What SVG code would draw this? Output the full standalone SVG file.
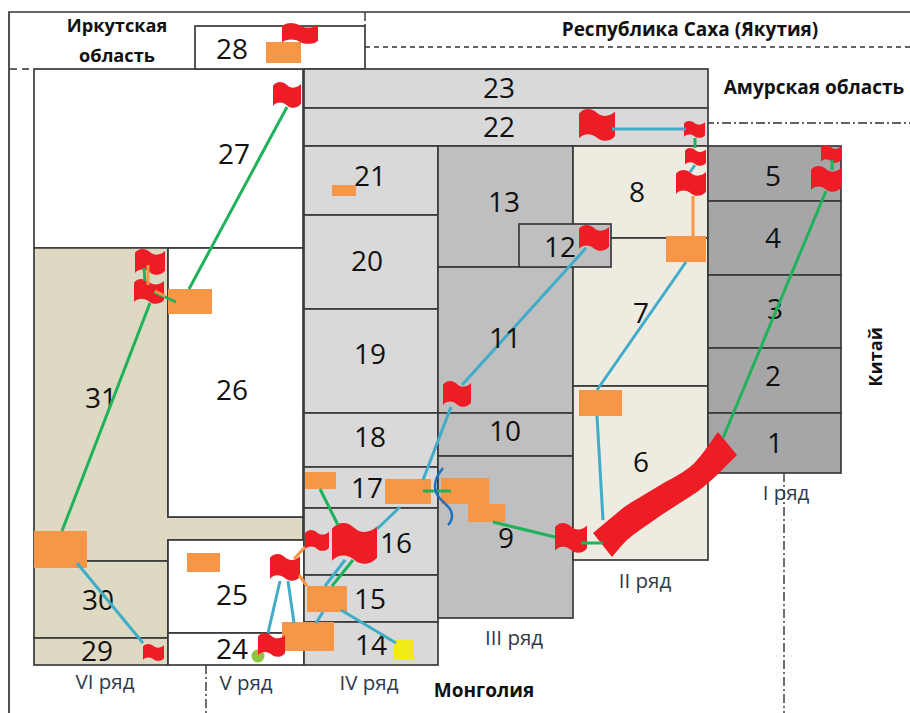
<svg xmlns="http://www.w3.org/2000/svg" width="910" height="713" viewBox="0 0 910 713">
<style>
.c{stroke:#3a3a3a;stroke-width:1.7}
.n{font:28px "Open Sans",sans-serif;fill:#111;text-anchor:middle}
.r{font:20.5px "Open Sans",sans-serif;fill:#2f3a4a;text-anchor:middle}
.b{font:bold 19px "Open Sans",sans-serif;fill:#111;text-anchor:middle}
.s{font-size:18.2px}
.o{fill:#f79646}
.l{fill:none;stroke-width:3}
.g{stroke:#1fb25a}.u{stroke:#41acc8}.a{stroke:#f79646}
.d{fill:none;stroke:#333;stroke-width:1.4}
.f{fill:#ee1c25}
.w{fill:#fff}.t{fill:#ddd9c3}.g4{fill:#d9d9d9}.g3{fill:#bfbfbf}.g2{fill:#eeece1}.g1{fill:#a6a6a6}
</style>
<defs>
<path id="flag" class="f" d="M0,14 C14,-6 36,-3 50,12 C64,27 86,24 100,8 L100,84 C88,102 64,104 50,90 C36,76 14,74 0,92 Z"/>
</defs>
<rect width="910" height="713" fill="#fff"/>
<g id="boundaries">
<path d="M9,713 V12 H910" fill="none" stroke="#333" stroke-width="1.7"/>
<path class="d" stroke-dasharray="7 5" d="M10,69 H34"/>
<path class="d" stroke-dasharray="5 4" d="M365,47 H910"/>
<path class="d" stroke-dasharray="9 3 2 3" d="M365,12 V26"/>
<path class="d" stroke-dasharray="9 3 2 3" d="M705,123 H910"/>
<path class="d" stroke-dasharray="9 3 2 3" d="M784,473 V713"/>
<path class="d" stroke-dasharray="9 3 2 3" d="M206,665 V713"/>
</g>
<g id="cell-27"><rect class="w c" x="34" y="69" width="269" height="179"/><text class="n" x="234" y="164">27</text></g>
<g id="cell-28"><rect class="w c" x="195" y="26" width="170" height="43"/><text class="n" x="232" y="59">28</text></g>
<g id="cell-31"><path class="t c" d="M34,248 H168 V517 H303 V540 H168 V561 H34 Z"/><text class="n" x="101" y="408">31</text></g>
<g id="cell-26"><rect class="w c" x="168" y="248" width="135" height="269"/><text class="n" x="232" y="400">26</text></g>
<g id="cell-30"><rect class="t c" x="34" y="561" width="134" height="77"/><text class="n" x="98" y="610">30</text></g>
<g id="cell-29"><rect class="t c" x="34" y="638" width="134" height="27"/><text class="n" x="97" y="661">29</text></g>
<g id="cell-25"><rect class="w c" x="168" y="540" width="136" height="93"/><text class="n" x="232" y="605">25</text></g>
<g id="cell-24"><rect class="w c" x="168" y="633" width="136" height="32"/><text class="n" x="232" y="659">24</text></g>
<g id="cell-23"><rect class="g4 c" x="304" y="69" width="404" height="39"/><text class="n" x="499" y="98">23</text></g>
<g id="cell-22"><rect class="g4 c" x="304" y="108" width="404" height="38"/><text class="n" x="499" y="137">22</text></g>
<g id="cell-21"><rect class="g4 c" x="304" y="146" width="134" height="69"/><text class="n" x="370" y="186">21</text></g>
<g id="cell-20"><rect class="g4 c" x="304" y="215" width="134" height="94"/><text class="n" x="367" y="271">20</text></g>
<g id="cell-19"><rect class="g4 c" x="304" y="309" width="134" height="104"/><text class="n" x="370" y="364">19</text></g>
<g id="cell-18"><rect class="g4 c" x="304" y="413" width="134" height="54"/><text class="n" x="370" y="447">18</text></g>
<g id="cell-17"><rect class="g4 c" x="304" y="467" width="134" height="41"/><text class="n" x="367" y="498">17</text></g>
<g id="cell-16"><rect class="g4 c" x="304" y="508" width="134" height="67"/><text class="n" x="396" y="553">16</text></g>
<g id="cell-15"><rect class="g4 c" x="304" y="575" width="134" height="47"/><text class="n" x="370" y="609">15</text></g>
<g id="cell-14"><rect class="g4 c" x="304" y="622" width="134" height="43"/><text class="n" x="371" y="655">14</text></g>
<g id="cell-13"><rect class="g3 c" x="438" y="146" width="135" height="121"/><text class="n" x="504" y="212">13</text></g>
<g id="cell-11"><rect class="g3 c" x="438" y="267" width="135" height="146"/></g>
<g id="cell-10"><rect class="g3 c" x="438" y="413" width="135" height="43"/><text class="n" x="505" y="441">10</text></g>
<g id="cell-9"><rect class="g3 c" x="438" y="456" width="135" height="162"/><text class="n" x="506" y="548">9</text></g>
<g id="cell-8"><rect class="g2 c" x="573" y="146" width="135" height="92"/><text class="n" x="637" y="202">8</text></g>
<g id="cell-7"><rect class="g2 c" x="573" y="238" width="135" height="148"/><text class="n" x="641" y="323">7</text></g>
<g id="cell-6"><rect class="g2 c" x="573" y="386" width="135" height="174"/><text class="n" x="641" y="472">6</text></g>
<g id="cell-12"><rect class="g3 c" x="519" y="224" width="92" height="43"/><text class="n" x="560" y="257">12</text></g>
<g id="cell-5"><rect class="g1 c" x="708" y="146" width="133" height="55"/><text class="n" x="773" y="186">5</text></g>
<g id="cell-4"><rect class="g1 c" x="708" y="201" width="133" height="74"/><text class="n" x="773" y="248">4</text></g>
<g id="cell-3"><rect class="g1 c" x="708" y="275" width="133" height="73"/><text class="n" x="775" y="319">3</text></g>
<g id="cell-2"><rect class="g1 c" x="708" y="348" width="133" height="65"/><text class="n" x="773" y="386">2</text></g>
<g id="cell-1"><rect class="g1 c" x="708" y="413" width="133" height="60"/><text class="n" x="775" y="453">1</text></g>
<g id="labels">
<text class="b s" x="117" y="32">Иркутская</text>
<text class="b s" x="117" y="62">область</text>
<text class="b" x="690" y="36">Республика Саха (Якутия)</text>
<text class="b" x="814" y="94">Амурская  область</text>
<text class="b s" transform="translate(882,357) rotate(-90)">Китай</text>
<text class="b" x="484" y="697">Монголия</text>
<text class="r" x="786" y="500">I ряд</text>
<text class="r" x="645" y="588">II ряд</text>
<text class="r" x="514" y="645">III ряд</text>
<text class="r" x="369" y="690">IV ряд</text>
<text class="r" x="246" y="690">V ряд</text>
<text class="r" x="105" y="689">VI ряд</text>
</g>
<g id="objects">
<rect class="o" x="266" y="42" width="35" height="21"/>
<rect class="o" x="168" y="289" width="44" height="25"/>
<rect class="o" x="34" y="531" width="53" height="37"/>
<rect class="o" x="187" y="553" width="33" height="19"/>
<rect class="o" x="332" y="185" width="24" height="11"/>
<rect class="o" x="666" y="236" width="40" height="26"/>
<rect class="o" x="579" y="390" width="43" height="26"/>
<rect class="o" x="305" y="472" width="31" height="17"/>
<rect class="o" x="385" y="479" width="46" height="25"/>
<path class="o" d="M441,478 H489 V504 H505 V522 H468 V504 H441 Z"/>
<rect class="o" x="307" y="586" width="40" height="26"/>
<rect class="o" x="282" y="622" width="52" height="29"/>
<rect x="394" y="640" width="20" height="19" fill="#f2ea16"/>
<circle cx="258" cy="656" r="6.5" fill="#8cc63f"/>
<path class="f" d="M593,533 C603,525 613,516 623,508 C634,500 646,494 657,487 C668,480 680,475 690,467 C700,459 709,444 718,432 L737,455 C724,468 711,482 697,492 C684,501 670,509 657,518 C646,526 636,532 627,540 C621,546 617,551 612,557 Z"/>
</g>
<g id="flags">
<use href="#flag" transform="translate(282,23) scale(.36,.21)"/>
<use href="#flag" transform="translate(273,82) scale(.28,.26)"/>
<use href="#flag" transform="translate(135,249) scale(.3,.26)"/>
<use href="#flag" transform="translate(134,279) scale(.3,.25)"/>
<use href="#flag" transform="translate(579,109) scale(.36,.32)"/>
<use href="#flag" transform="translate(684,121) scale(.21,.17)"/>
<use href="#flag" transform="translate(685,148) scale(.21,.18)"/>
<use href="#flag" transform="translate(676,170) scale(.3,.26)"/>
<use href="#flag" transform="translate(821,145) scale(.2,.18)"/>
<use href="#flag" transform="translate(811,166) scale(.3,.26)"/>
<use href="#flag" transform="translate(579,225) scale(.3,.26)"/>
<use href="#flag" transform="translate(443,381) scale(.28,.26)"/>
<use href="#flag" transform="translate(555,523) scale(.32,.3)"/>
<use href="#flag" transform="translate(332,523) scale(.45,.41)"/>
<use href="#flag" transform="translate(305,530) scale(.24,.21)"/>
<use href="#flag" transform="translate(270,554) scale(.3,.27)"/>
<use href="#flag" transform="translate(258,633) scale(.27,.24)"/>
<use href="#flag" transform="translate(143,644) scale(.21,.17)"/>
</g>
<g id="connectors">
<path class="l g" d="M287,107 L189,289M176,302 L154,292M150,303 L62,531M144,268 L145,281M723,438 L826,191M832,160 V170M695,138 V148M320,489 L338,525M353,560 L332,586M423,491 H451M493,522 L555,537M581,543 H603"/>
<path class="l a" d="M148,265 V285M155,291 L165,296M693,196 V236M305,547 L294,559M299,575 L307,586"/>
<path class="l u" d="M695,165 L690,172M686,262 L597,390M597,416 L603,520M612,129 H686M586,248 L462,385M451,407 L423,480M400,507 L377,529M345,560 L325,586M280,581 L268,633M288,581 L294,623M323,612 L316,623M341,610 L396,643M77,563 L143,643"/>
<path fill="none" stroke="#1f6fc0" stroke-width="2.5" d="M443,468 C437,475 433,483 436,492 C439,502 452,505 452,516 Q452,521 448,525"/>
</g>
<text class="n" x="505" y="348">11</text>
</svg>
